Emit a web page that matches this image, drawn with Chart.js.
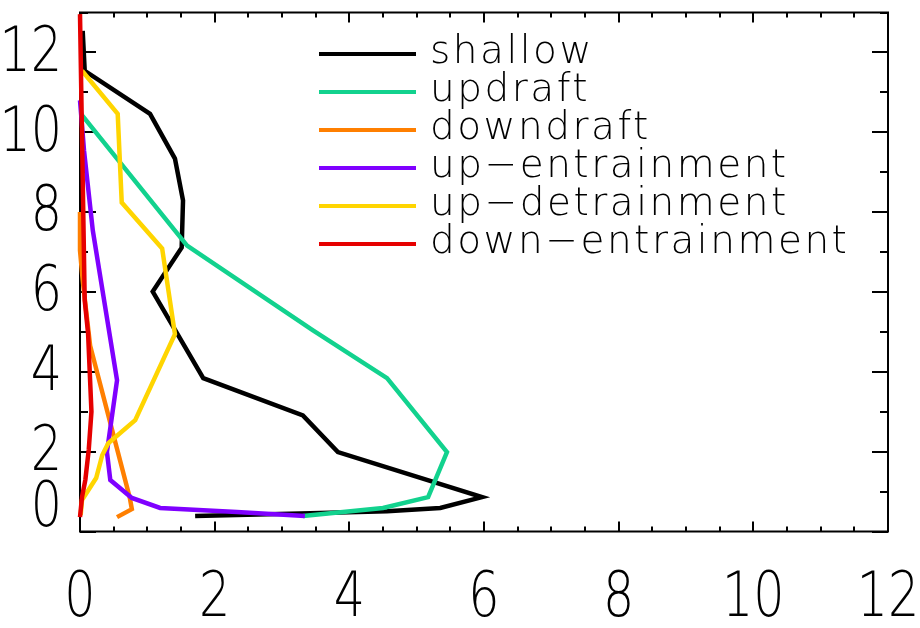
<!DOCTYPE html>
<html>
<head>
<meta charset="utf-8">
<script src="https://cdn.jsdelivr.net/npm/chart.js@4/dist/chart.umd.min.js"></script>
<style>
  html, body { margin: 0; padding: 0; background: #fff; }
  #wrap { width: 920px; height: 628px; position: relative; }
</style>
</head>
<body>
<div id="wrap"><canvas id="c"></canvas></div>
<script>
// Vertical profiles: each series is a list of values and the heights they sit at.
const seriesNames = ['shallow', 'updraft', 'downdraft', 'up-entrainment', 'up-detrainment', 'down-entrainment'];
const seriesColors = ['#000000', '#12d28e', '#ff7f00', '#7f00ff', '#ffd500', '#e60000'];

const shallowX = [1.71, 3.42, 4.56, 5.35, 5.97, 3.83, 3.31, 1.83, 1.08, 1.51, 1.53, 1.41, 1.04, 0.07, 0.04];
const shallowZ = [0.39, 0.46, 0.51, 0.59, 0.86, 1.99, 2.91, 3.84, 6.01, 7.11, 8.29, 9.34, 10.46, 11.54, 12.54];

const updraftX = [3.31, 4.50, 5.17, 5.45, 4.56, 3.46, 1.59, 0.02];
const updraftZ = [0.39, 0.59, 0.86, 1.99, 3.84, 5.04, 7.16, 10.45];

const downdraftX = [0.55, 0.77, 0.74, 0.15, 0.04, 0.0, 0.0];
const downdraftZ = [0.36, 0.56, 0.84, 4.66, 6.29, 7.04, 8.0];

const upEntX = [3.34, 2.33, 1.19, 0.77, 0.45, 0.40, 0.55, 0.19, 0.06, 0.0];
const upEntZ = [0.39, 0.49, 0.59, 0.84, 1.29, 1.99, 3.79, 7.54, 9.54, 10.8];

const upDetX = [0.01, 0.03, 0.24, 0.33, 0.42, 0.82, 1.41, 1.22, 0.62, 0.56, 0.03];
const upDetZ = [0.41, 0.79, 1.34, 1.91, 2.21, 2.79, 4.94, 7.09, 8.24, 10.46, 11.54];

const downEntX = [0.0, 0.03, 0.08, 0.13, 0.17, 0.12, 0.07, 0.0];
const downEntZ = [0.36, 0.86, 1.30, 2.05, 3.00, 4.96, 5.79, 12.96];

const xTickLabels = ['0', '2', '4', '6', '8', '10', '12'];
const yTickLabels = ['0', '2', '4', '6', '8', '10', '12'];

const profiles = [
  [shallowX, shallowZ], [updraftX, updraftZ], [downdraftX, downdraftZ],
  [upEntX, upEntZ], [upDetX, upDetZ], [downEntX, downEntZ]
];

const datasets = profiles.map(([xs, zs], i) => ({
  label: seriesNames[i],
  data: xs.map((v, k) => ({ x: v, y: zs[k] })),
  showLine: true,
  borderColor: seriesColors[i],
  backgroundColor: seriesColors[i],
  borderWidth: 4.5,
  pointRadius: 0,
  tension: 0,
  clip: false,
  order: profiles.length - i   // later series sit on top
}));

const NUM_FONT = '200 63px "DejaVu Sans"';
const NUM_SCALE = 0.78;

function drawNumber(ctx, text, x, y, align) {
  ctx.save();
  ctx.translate(x, y);
  ctx.scale(NUM_SCALE, 1);
  ctx.textAlign = align;
  ctx.textBaseline = 'middle';
  ctx.fillText(text, 0, 0);
  ctx.restore();
}

// Boxed frame with inward ticks on all four sides.
const framePlugin = {
  id: 'frame',
  beforeDatasetsDraw(chart) {
    const { ctx, chartArea: a, scales: { x, y } } = chart;
    ctx.save();
    ctx.strokeStyle = '#000';
    ctx.lineWidth = 2;
    ctx.strokeRect(a.left, a.top, a.right - a.left, a.bottom - a.top);
    ctx.beginPath();
    for (let v = 0; v <= 12.001; v += 0.5) {
      const px = Math.round(x.getPixelForValue(v));
      const len = (Math.abs(v % 2) < 1e-6) ? 10 : 5;
      ctx.moveTo(px, a.bottom); ctx.lineTo(px, a.bottom - len);
      ctx.moveTo(px, a.top); ctx.lineTo(px, a.top + len);
    }
    for (let v = 0; v <= 13; v += 1) {
      const py = Math.round(y.getPixelForValue(v));
      const len = (v % 2 === 0) ? 16 : 8;
      ctx.moveTo(a.left, py); ctx.lineTo(a.left + len, py);
      ctx.moveTo(a.right, py); ctx.lineTo(a.right - len, py);
    }
    ctx.stroke();
    ctx.restore();
  },
  afterDraw(chart) {
    const { ctx, chartArea: a, scales: { x, y } } = chart;
    ctx.save();
    ctx.fillStyle = '#000';
    ctx.font = NUM_FONT;
    xTickLabels.forEach(t => {
      drawNumber(ctx, t, x.getPixelForValue(Number(t)), 600, 'center');
    });
    yTickLabels.forEach(t => {
      const v = Number(t);
      let py = y.getPixelForValue(v) + 2;
      if (v === 0) py = a.bottom - 22;
      drawNumber(ctx, t, 62, py, 'right');
    });

    // Legend: line sample followed by the series name (hyphen drawn as a long dash)
    ctx.font = '200 39px "DejaVu Sans"';
    ctx.letterSpacing = '2.5px';
    ctx.textAlign = 'left';
    ctx.textBaseline = 'alphabetic';
    chart.data.datasets.forEach((ds, i) => {
      const ly = 54 + i * 38;
      ctx.strokeStyle = ds.borderColor;
      ctx.lineWidth = 4;
      ctx.beginPath();
      ctx.moveTo(319, ly); ctx.lineTo(416, ly);
      ctx.stroke();
      ctx.fillText(ds.label.replace('-', '\u2212'), 430, ly + 9);
    });
    ctx.restore();
  }
};

new Chart(document.getElementById('c'), {
  type: 'scatter',
  data: { datasets },
  options: {
    responsive: true,
    maintainAspectRatio: false,
    animation: false,
    events: [],
    layout: { padding: { left: 80, right: 32, top: 12.5, bottom: 96.5 } },
    plugins: { legend: { display: false }, tooltip: { enabled: false } },
    scales: {
      x: { type: 'linear', min: 0, max: 12, display: false },
      y: { type: 'linear', min: 0, max: 13, display: false }
    }
  },
  plugins: [framePlugin]
});
</script>
</body>
</html>
